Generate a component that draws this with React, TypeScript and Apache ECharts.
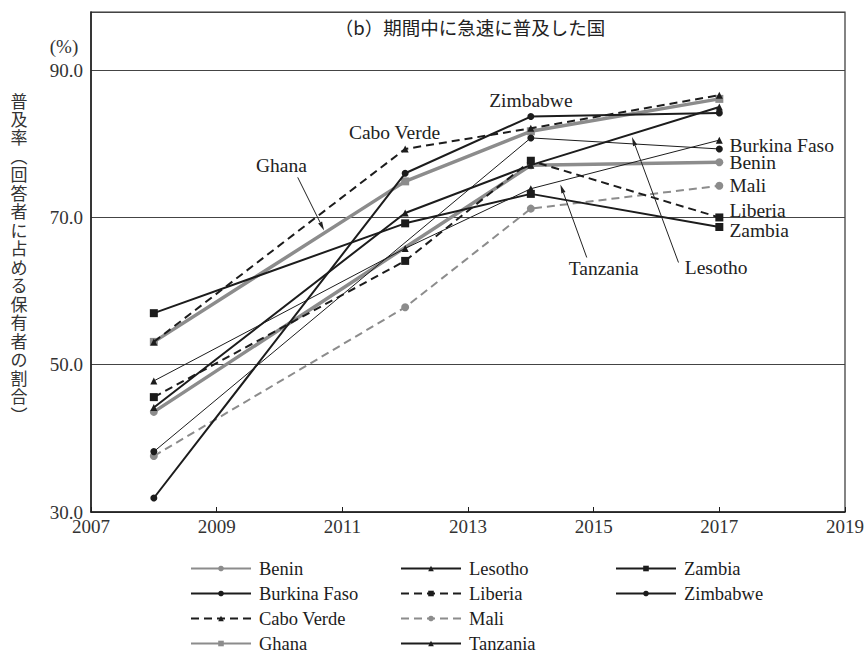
import React, { useEffect, useRef } from "react";
import * as echarts from "echarts";

// Survey years and ownership rates (%) per country
const years = [2008, 2012, 2014, 2017];
const benin = [43.6, null, 77.1, 77.5];
const burkinaFaso = [38.2, null, 80.8, 79.3];
const caboVerde = [53.1, 79.3, 82.1, 86.6];
const ghana = [53.1, 74.9, 81.7, 86.1];
const lesotho = [44.2, 70.6, 77.1, 85.0];
const liberia = [45.6, 64.1, 77.7, 70.0];
const mali = [37.6, 57.8, 71.2, 74.3];
const tanzania = [47.8, 65.8, 73.9, 80.5];
const zambia = [57.0, 69.2, 73.2, 68.7];
const zimbabwe = [31.9, 76.0, 83.7, 84.2];

const countryNames = [
  "Benin", "Burkina Faso", "Cabo Verde", "Ghana", "Lesotho",
  "Liberia", "Mali", "Tanzania", "Zambia", "Zimbabwe",
];
const countryValues = [
  benin, burkinaFaso, caboVerde, ghana, lesotho,
  liberia, mali, tanzania, zambia, zimbabwe,
];

const xTicks = [2007, 2009, 2011, 2013, 2015, 2017, 2019];
const yTicks = [30, 50, 70, 90];

const titleText = "（b）期間中に急速に普及した国";
const yAxisTitle = "普及率︵回答者に占める保有者の割合︶";
const unitText = "(%)";

const BLACK = "#1c1c1c";
const GRAY = "#8c8c8c";
const SERIF = "Liberation Serif";
const CJK = "Noto Sans CJK JP";

type LineLook = {
  color: string;
  width: number;
  dashed: boolean;
  symbol: string;
  size: number;
};

const looks: Record<string, LineLook> = {
  Benin: { color: GRAY, width: 3.5, dashed: false, symbol: "circle", size: 8 },
  "Burkina Faso": { color: BLACK, width: 1, dashed: false, symbol: "circle", size: 7 },
  "Cabo Verde": { color: BLACK, width: 2, dashed: true, symbol: "triangle", size: 7 },
  Ghana: { color: GRAY, width: 3.5, dashed: false, symbol: "rect", size: 8 },
  Lesotho: { color: BLACK, width: 2, dashed: false, symbol: "triangle", size: 7 },
  Liberia: { color: BLACK, width: 2, dashed: true, symbol: "rect", size: 8 },
  Mali: { color: GRAY, width: 2, dashed: true, symbol: "circle", size: 8 },
  Tanzania: { color: BLACK, width: 1, dashed: false, symbol: "triangle", size: 7 },
  Zambia: { color: BLACK, width: 2, dashed: false, symbol: "rect", size: 8 },
  Zimbabwe: { color: BLACK, width: 2, dashed: false, symbol: "circle", size: 7 },
};

// Callout texts placed in data coordinates
const callouts: { text: string; at: [number, number]; align: string }[] = [
  { text: "Ghana", at: [2010.03, 77.1], align: "center" },
  { text: "Cabo Verde", at: [2011.83, 81.6], align: "center" },
  { text: "Zimbabwe", at: [2014.0, 85.9], align: "center" },
  { text: "Tanzania", at: [2015.16, 63.1], align: "center" },
  { text: "Lesotho", at: [2016.95, 63.2], align: "center" },
  { text: "Burkina Faso", at: [2017.16, 79.8], align: "left" },
  { text: "Benin", at: [2017.16, 77.5], align: "left" },
  { text: "Mali", at: [2017.16, 74.35], align: "left" },
  { text: "Liberia", at: [2017.16, 70.95], align: "left" },
  { text: "Zambia", at: [2017.16, 68.2], align: "left" },
];

const arrows: { from: [number, number]; to: [number, number] }[] = [
  { from: [2010.29, 75.44], to: [2010.71, 68.23] },
  { from: [2014.89, 64.56], to: [2014.47, 74.49] },
  { from: [2016.35, 63.88], to: [2015.61, 80.93] },
];

function buildSeries() {
  return countryNames.map((name, i) => {
    const look = looks[name];
    return {
      name,
      type: "line",
      data: years.map((y, j) => [y, countryValues[i][j]]),
      connectNulls: true,
      symbol: look.symbol,
      symbolSize: look.size,
      showSymbol: true,
      lineStyle: {
        color: look.color,
        width: look.width,
        type: look.dashed ? [8, 5] : "solid",
      },
      itemStyle: { color: look.color },
      emphasis: { disabled: true },
      z: look.color === GRAY ? 2 : 3,
    };
  });
}

function legendBlock(names: string[], left: number) {
  return {
    data: names,
    orient: "vertical",
    left,
    top: 559,
    height: 100,
    padding: 0,
    itemWidth: 60,
    itemHeight: 7,
    itemGap: 6,
    selectedMode: false,
    textStyle: {
      fontFamily: SERIF,
      fontSize: 18.5,
      color: BLACK,
      lineHeight: 18,
      padding: [0, 0, 0, 3],
    },
  };
}

export default function App() {
  const ref = useRef<HTMLDivElement>(null);

  useEffect(() => {
    if (!ref.current) return;
    const chart = echarts.init(ref.current, null, { renderer: "svg" });
    const yMax = 97.9;
    chart.setOption({
      animation: false,
      backgroundColor: "#ffffff",
      grid: {
        left: 91,
        right: 21,
        top: 12,
        bottom: 142,
        show: true,
        borderColor: "#333",
        borderWidth: 1.2,
        backgroundColor: "transparent",
      },
      xAxis: {
        type: "value",
        min: xTicks[0],
        max: xTicks[xTicks.length - 1],
        interval: 2,
        axisLine: { show: true, lineStyle: { color: BLACK, width: 1.5 } },
        axisTick: { show: true, inside: true, length: 5, lineStyle: { color: BLACK } },
        splitLine: { show: false },
        axisLabel: {
          fontFamily: SERIF,
          fontSize: 19,
          color: "#333",
          margin: 5,
          formatter: (v: number) => String(v),
        },
      },
      yAxis: {
        type: "value",
        min: yTicks[0],
        max: yMax,
        interval: 20,
        axisLine: { show: true, lineStyle: { color: BLACK, width: 1.5 } },
        axisTick: { show: false },
        splitLine: { show: true, lineStyle: { color: "#444", width: 1 } },
        axisLabel: {
          fontFamily: SERIF,
          fontSize: 19,
          color: "#333",
          margin: 8,
          formatter: (v: number) =>
            yTicks.includes(Math.round(v * 10) / 10) ? v.toFixed(1) : "",
        },
      },
      legend: [
        legendBlock(countryNames.slice(0, 4), 190),
        legendBlock(countryNames.slice(4, 8), 400),
        legendBlock(countryNames.slice(8), 615),
      ],
      series: buildSeries(),
    });

    const px = (p: [number, number]) =>
      chart.convertToPixel({ gridIndex: 0 }, p) as number[];

    const elements: any[] = [];
    elements.push({
      type: "text",
      x: 470,
      y: 27,
      style: {
        text: titleText,
        font: `18.5px "${CJK}"`,
        fill: "#222",
        align: "center",
        verticalAlign: "middle",
      },
    });
    elements.push({
      type: "text",
      x: 64,
      y: 46,
      style: {
        text: unitText,
        font: `19px "${SERIF}"`,
        fill: "#333",
        align: "center",
        verticalAlign: "middle",
      },
    });
    // Vertical axis title, one glyph per element
    Array.from(yAxisTitle).forEach((ch, i) => {
      elements.push({
        type: "text",
        x: 19,
        y: 100 + i * 18.48,
        style: {
          text: ch,
          font: `17px "${CJK}"`,
          fill: "#333",
          align: "center",
          verticalAlign: "middle",
        },
      });
    });
    callouts.forEach((c) => {
      const [x, y] = px(c.at);
      elements.push({
        type: "text",
        x,
        y,
        z: 10,
        style: {
          text: c.text,
          font: `19.5px "${SERIF}"`,
          fill: "#222",
          align: c.align,
          verticalAlign: "middle",
        },
      });
    });
    arrows.forEach((a) => {
      const [x1, y1] = px(a.from);
      const [x2, y2] = px(a.to);
      const dx = x2 - x1;
      const dy = y2 - y1;
      const len = Math.hypot(dx, dy) || 1;
      const ux = dx / len;
      const uy = dy / len;
      const head = 9;
      const half = 2.2;
      const bx = x2 - ux * head;
      const by = y2 - uy * head;
      elements.push({
        type: "line",
        z: 10,
        shape: { x1, y1, x2: bx, y2: by },
        style: { stroke: "#222", lineWidth: 1 },
      });
      elements.push({
        type: "polygon",
        z: 10,
        shape: {
          points: [
            [x2, y2],
            [bx - uy * half, by + ux * half],
            [bx + uy * half, by - ux * half],
          ],
        },
        style: { fill: "#222" },
      });
    });
    chart.setOption({ graphic: elements });

    return () => chart.dispose();
  }, []);

  return (
    <div
      ref={ref}
      style={{ position: "fixed", left: 0, top: 0, width: 867, height: 654 }}
    />
  );
}
